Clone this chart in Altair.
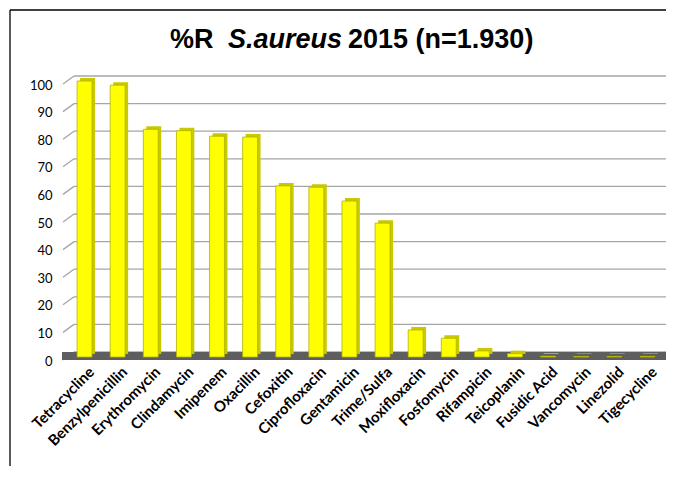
import altair as alt
import pandas as pd

drugs = ["Tetracycline", "Benzylpenicillin", "Erythromycin", "Clindamycin", "Imipenem",
         "Oxacillin", "Cefoxitin", "Ciprofloxacin", "Gentamicin", "Trime/Sulfa",
         "Moxifloxacin", "Fosfomycin", "Rifampicin", "Teicoplanin", "Fusidic Acid",
         "Vancomycin", "Linezolid", "Tigecycline"]
values = [100, 98.5, 82.5, 82, 80, 79.7, 62, 61.5, 56.5, 48.5,
          9.8, 6.8, 2.2, 1.2, 0.3, 0.2, 0.2, 0.2]
ticks = [0, 10, 20, 30, 40, 50, 60, 70, 80, 90, 100]

bars = pd.DataFrame({"drug": drugs, "v": values})
grid = pd.DataFrame({"v": ticks})
one = pd.DataFrame({"k": [0]})

yscale = alt.Scale(domain=[0, 100], nice=False, zero=True)
xscale = alt.Scale(paddingInner=0.55, paddingOuter=0.275)

xenc = alt.X("drug:N", sort=drugs, scale=xscale, title=None,
             axis=alt.Axis(labelAngle=-45, labelAlign="right", labelBaseline="middle",
                           domain=False, ticks=False, labelPadding=17, labelOffset=7,
                           labelFont="Lato", labelFontWeight="bold", labelFontSize=15,
                           labelColor="#000000", labelOverlap=False))
yaxis = alt.Axis(values=ticks, tickCount=11, domain=False, ticks=False, grid=False,
                 labelPadding=16, labelOffset=9, labelFont="Lato", labelOverlap=False,
                 labelFontSize=13, labelColor="#000000")


def yenc():
    return alt.Y("v:Q", scale=yscale, title=None, axis=yaxis)


border_left = alt.Chart(one).mark_rule(color="#000000", strokeWidth=1.3).encode(
    x=alt.value(-58), y=alt.value(-66), y2=alt.value(420))
border_top = alt.Chart(one).mark_rule(color="#000000", strokeWidth=1.3).encode(
    x=alt.value(-58), x2=alt.value(598), y=alt.value(-66))

gridlines = alt.Chart(grid).mark_rule(color="#a6a6a6", strokeWidth=1.3).encode(
    y=yenc(), x=alt.value(6), x2=alt.value(598))
diagonals = alt.Chart(grid).mark_rule(color="#a6a6a6", strokeWidth=1.3, yOffset=8).encode(
    y=yenc(), y2=alt.Y2("v:Q"),
    x=alt.value(-5), x2=alt.value(6))

floor = alt.Chart(one).mark_rect(color="#5e5e5e").encode(
    x=alt.value(-6), x2=alt.value(598), y=alt.value(276), y2=alt.value(284))

side = alt.Chart(bars).mark_bar(color="#c9c900", xOffset=3, x2Offset=3,
                                yOffset=2, y2Offset=2).encode(x=xenc, y=yenc())
front = alt.Chart(bars).mark_bar(color="#ffff00", stroke="#b3b300", strokeWidth=0.8,
                                 yOffset=5, y2Offset=5).encode(x=xenc, y=yenc())

t1 = alt.Chart(one).mark_text(text="%R", font="Liberation Sans", fontSize=27,
                              fontWeight="bold", align="left", baseline="alphabetic",
                              color="#000000").encode(x=alt.value(102), y=alt.value(-28))
t2 = alt.Chart(one).mark_text(text="S.aureus", font="Liberation Sans", fontSize=27,
                              fontWeight="bold", fontStyle="italic", align="left",
                              baseline="alphabetic", color="#000000").encode(
    x=alt.value(160), y=alt.value(-28))
t3 = alt.Chart(one).mark_text(text="2015 (n=1.930)", font="Liberation Sans", fontSize=27,
                              fontWeight="bold", align="left", baseline="alphabetic",
                              color="#000000").encode(x=alt.value(280), y=alt.value(-28))

chart = alt.layer(border_left, border_top, gridlines, diagonals, floor, side, front,
                  t1, t2, t3).properties(
    width=596, height=276,
    padding={"left": 60, "top": 68, "right": 3, "bottom": 114},
    autosize=alt.AutoSizeParams(type="none"),
    background="#ffffff",
).configure_view(stroke=None)

chart.save("out.html", embed_options={"renderer": "svg", "actions": False})
